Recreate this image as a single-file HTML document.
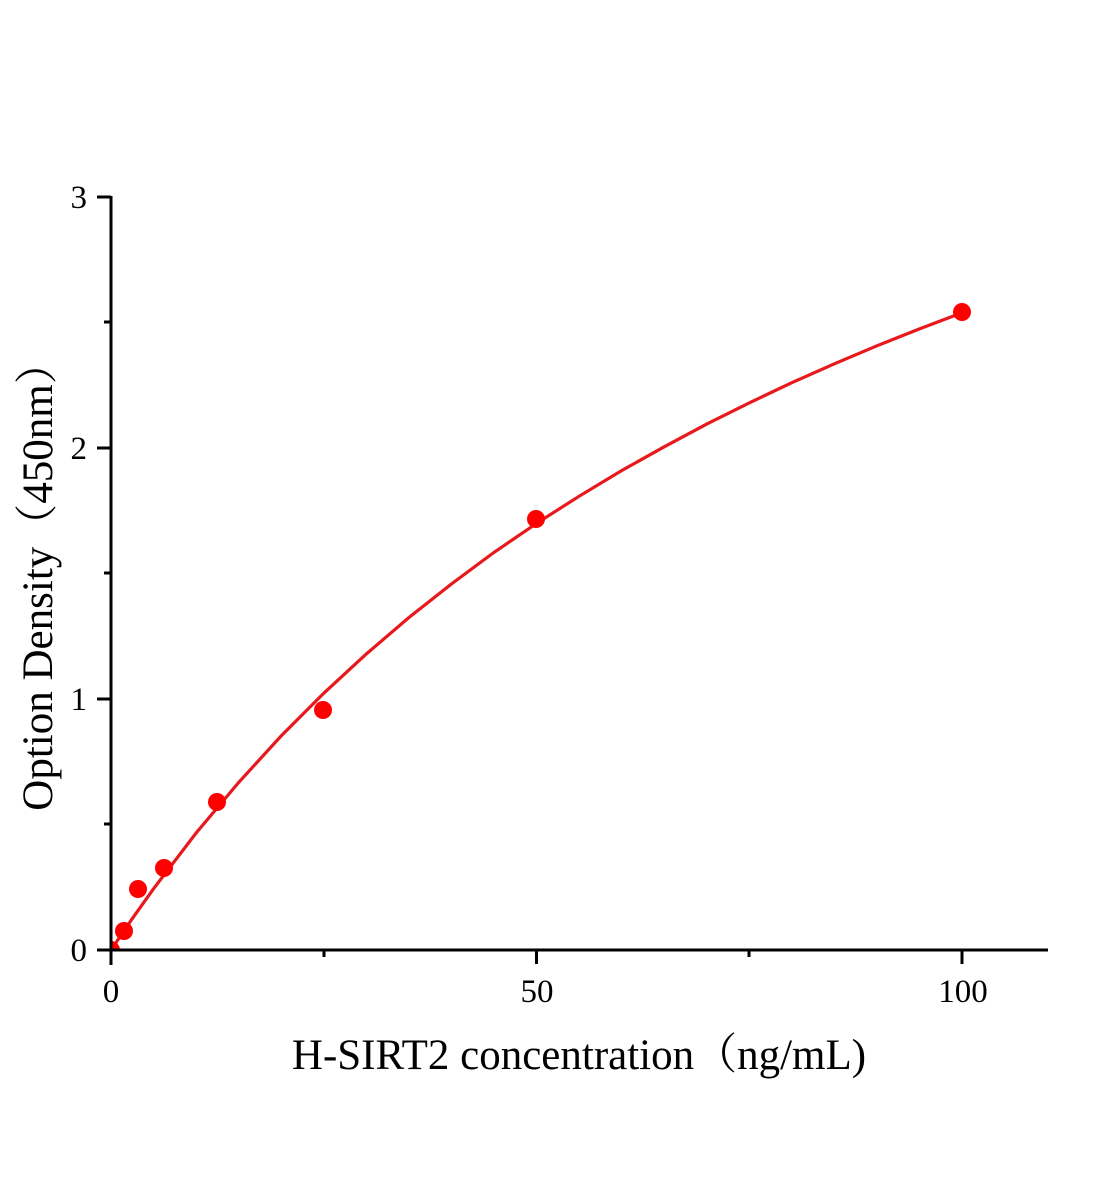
<!DOCTYPE html>
<html><head><meta charset="utf-8"><style>
html,body{margin:0;padding:0;background:#fff;}
svg{display:block;}
text{font-family:"Liberation Serif","Noto Serif CJK SC",serif;fill:#000;}
</style></head><body>
<svg width="1104" height="1200" viewBox="0 0 1104 1200" xmlns="http://www.w3.org/2000/svg">
<defs><clipPath id="c"><rect x="111" y="150" width="950" height="800"/></clipPath></defs>
<g clip-path="url(#c)">
<polyline fill="none" stroke="#e8191c" stroke-width="3.2" points="111,950 132.3,918.6 153.6,888.7 196.1,833 238.6,782.5 281.2,735.9 323.7,693.3 366.3,654 408.8,617.6 451.4,584 494,552.4 536.5,523.4 579,496.3 621.6,470.6 664.2,446.8 706.7,424.1 749.2,402.9 791.8,382.7 834.4,363.8 876.9,345.8 919.5,328.9 962,312.7"/>
<g fill="#f00">
<circle cx="111" cy="950" r="9"/>
<circle cx="124" cy="931" r="9"/>
<circle cx="138" cy="889" r="9"/>
<circle cx="164" cy="868" r="9"/>
<circle cx="217" cy="802" r="9"/>
<circle cx="323" cy="710" r="9"/>
<circle cx="536" cy="519" r="9"/>
<circle cx="962" cy="312" r="9"/>
</g>
</g>
<g stroke="#000" stroke-width="3" fill="none">
<line x1="111" y1="196" x2="111" y2="965"/>
<line x1="97" y1="950" x2="1048" y2="950"/>
<line x1="97" y1="197" x2="111" y2="197"/>
<line x1="97" y1="448" x2="111" y2="448"/>
<line x1="97" y1="699" x2="111" y2="699"/>
<line x1="104" y1="322" x2="111" y2="322"/>
<line x1="104" y1="573" x2="111" y2="573"/>
<line x1="104" y1="824" x2="111" y2="824"/>
<line x1="536.5" y1="950" x2="536.5" y2="964"/>
<line x1="962" y1="950" x2="962" y2="964"/>
<line x1="324" y1="950" x2="324" y2="957"/>
<line x1="749" y1="950" x2="749" y2="957"/>
</g>
<g font-size="33" text-anchor="end">
<text x="87" y="961">0</text>
<text x="87" y="710">1</text>
<text x="87" y="459">2</text>
<text x="87" y="208">3</text>
</g>
<g font-size="33" text-anchor="middle">
<text x="111" y="1002">0</text>
<text x="537" y="1002">50</text>
<text x="963" y="1002">100</text>
</g>
<text x="579" y="1069" font-size="43" text-anchor="middle">H-SIRT2 concentration（ng/mL)</text>
<text transform="translate(52,576) rotate(-90)" font-size="43" text-anchor="middle">Option Density（450nm）</text>
</svg>
</body></html>
